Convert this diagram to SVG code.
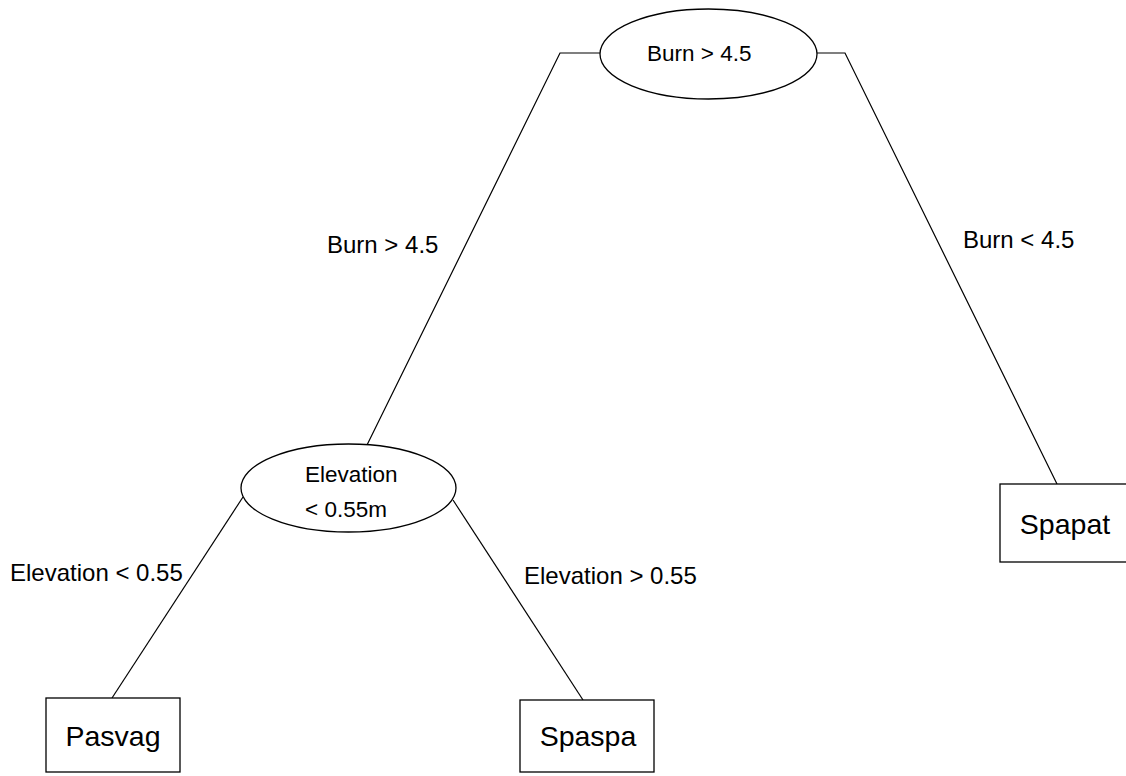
<svg xmlns="http://www.w3.org/2000/svg" width="1126" height="776" viewBox="0 0 1126 776">
<style>
.shape{fill:#fff;stroke:#000;stroke-width:1.3}
.edge{fill:none;stroke:#000;stroke-width:1.2}
text{font-family:"Liberation Sans",Arial,sans-serif;fill:#000}
.lbl{font-size:24px}
.nt{font-size:22.5px}
.lf{font-size:28.5px;text-anchor:middle}
</style>
<rect width="1126" height="776" fill="#fff"/>
<g id="connectors">
<polyline class="edge" points="600,53 560,53 367,445"/>
<polyline class="edge" points="817,53 845,53 1057,484"/>
<line class="edge" x1="243" y1="497" x2="112" y2="698"/>
<line class="edge" x1="453" y1="500" x2="583" y2="700"/>
<text class="lbl" x="327" y="253">Burn &gt; 4.5</text>
<text class="lbl" x="963" y="248">Burn &lt; 4.5</text>
<text class="lbl" x="10" y="581">Elevation &lt; 0.55</text>
<text class="lbl" x="524" y="584">Elevation &gt; 0.55</text>
</g>
<g id="root">
<ellipse class="shape" cx="708.5" cy="54" rx="108.5" ry="45"/>
<text class="nt" x="647" y="61">Burn &gt; 4.5</text>
</g>
<g id="elevation">
<ellipse class="shape" cx="348.5" cy="488" rx="107.5" ry="44"/>
<text class="nt" x="305" y="482">Elevation</text>
<text class="nt" x="305" y="517">&lt; 0.55m</text>
</g>
<g id="spapat">
<rect class="shape" x="1000" y="484" width="140" height="78"/>
<text class="lf" x="1065" y="534">Spapat</text>
</g>
<g id="pasvag">
<rect class="shape" x="46" y="698" width="134" height="74"/>
<text class="lf" x="113" y="746">Pasvag</text>
</g>
<g id="spaspa">
<rect class="shape" x="520" y="700" width="134" height="72"/>
<text class="lf" x="588" y="746">Spaspa</text>
</g>
</svg>
